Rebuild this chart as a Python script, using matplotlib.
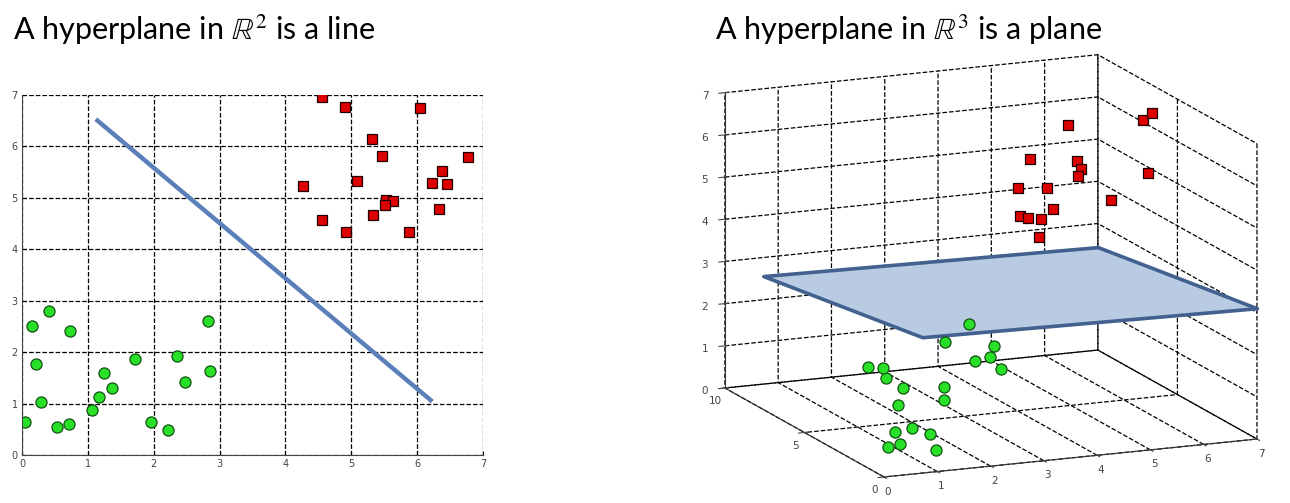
import matplotlib
matplotlib.use('Agg')
import matplotlib.pyplot as plt
from mpl_toolkits.mplot3d.art3d import Poly3DCollection

plt.rcParams['mathtext.fontset'] = 'stix'
plt.rcParams['grid.linestyle'] = '--'
plt.rcParams['grid.color'] = 'black'
plt.rcParams['grid.linewidth'] = 0.9

# 2D panel data
green_x = [0.05, 0.15, 0.41, 0.21, 0.29, 0.53, 0.72, 0.73, 1.07, 1.17,
           1.24, 1.36, 1.72, 1.96, 2.22, 2.36, 2.48, 2.83, 2.86]
green_y = [0.65, 2.51, 2.80, 1.76, 1.04, 0.55, 0.60, 2.41, 0.87, 1.13,
           1.59, 1.30, 1.86, 0.65, 0.49, 1.92, 1.41, 2.61, 1.63]
red_x = [4.55, 4.90, 6.05, 5.31, 5.46, 6.77, 6.37, 5.09, 4.26, 6.23,
         6.46, 5.53, 5.63, 5.51, 5.33, 4.56, 4.92, 5.88, 6.33]
red_y = [6.97, 6.77, 6.74, 6.14, 5.81, 5.79, 5.53, 5.33, 5.24, 5.29,
         5.27, 4.96, 4.94, 4.87, 4.67, 4.56, 4.34, 4.33, 4.78]
line_x = [1.12, 6.23]
line_y = [6.53, 1.04]

# 3D panel data
g3_x = [3.98, 2.93, 3.85, 3.78, 3.50, 3.98, 1.49, 1.77, 1.83, 1.85,
        2.62, 2.62, 1.75, 1.10, 1.42, 1.76, 0.90, 0.67, 1.57]
g3_y = [8, 6, 6, 6, 6, 6, 6, 6, 6, 5,
        5, 5, 5, 3, 3, 3, 2, 2, 2]
g3_z = [1.43, 1.56, 1.34, 1.09, 1.03, 0.78, 1.15, 1.09, 0.84, 0.82,
        0.74, 0.43, 0.43, 0.29, 0.35, 0.16, 0.24, 0.20, 0.02]
r3_x = [4.94, 6.65, 6.67, 4.53, 5.11, 5.04, 4.83, 5.85, 4.01, 4.25,
        4.86, 3.74, 3.75, 3.84, 4.22, 3.65]
r3_y = [5, 6, 5.5, 6, 5, 4.5, 4, 3, 5, 4,
        2, 4, 3.5, 3, 3.5, 2.5]
r3_z = [6.66, 6.35, 6.62, 5.70, 5.77, 5.71, 5.66, 5.83, 5.27, 5.45,
        5.51, 4.87, 4.93, 5.00, 5.06, 4.68]
plane_x = [0.72, 7, 7, 0.72]
plane_y = [10, 10, 0, 0]
plane_z = [2.56, 2.44, 3.10, 3.22]

fig = plt.figure(figsize=(12.9, 5.03), dpi=100)

title_font = ['Lato', 'DejaVu Sans']
fig.text(13/1290, 1 - 30/503, r'A hyperplane in $\mathbb{R}^2$ is a line',
         fontsize=22, family=title_font, va='center', ha='left')
fig.text(715/1290, 1 - 30/503, r'A hyperplane in $\mathbb{R}^3$ is a plane',
         fontsize=22, family=title_font, va='center', ha='left')

# ---- left: 2D ----
ax = fig.add_axes([22/1290, 1 - 455/503, 461/1290, 360/503])
ax.plot(line_x, line_y, color='#5b7fb9', lw=3.2, solid_capstyle='butt')
ax.plot(green_x, green_y, 'o', ms=8, mfc='#27e027', mec='#145214', mew=0.9)
ax.plot(red_x, red_y, 's', ms=7.5, mfc='#dd0000', mec='#220000', mew=0.9)
ax.set_xlim(0, 7)
ax.set_ylim(0, 7)
ax.set_xticks(range(8))
ax.set_yticks(range(8))
ax.grid(True)
ax.set_axisbelow(True)
for s in ['top', 'right']:
    ax.spines[s].set_visible(False)
for s in ['left', 'bottom']:
    ax.spines[s].set_color('#444444')
ax.tick_params(direction='in', length=3, labelsize=7, labelcolor='#444444', pad=3)

# ---- right: 3D ----
ax3 = fig.add_axes([0.5134, -0.1819, 640/1290, 640/503], projection='3d')
ax3.set_proj_type('ortho')
ax3.view_init(elev=13.8, azim=-113.1)
ax3.set_box_aspect((1, 1, 0.75), zoom=0.9846)
ax3.set_xlim(0, 7)
ax3.set_ylim(0, 10)
ax3.set_zlim(0, 7)
ax3.set_xticks(range(8))
ax3.set_yticks([0, 5, 10])
ax3.set_zticks(range(8))
ax3.computed_zorder = False
for a in [ax3.xaxis, ax3.yaxis, ax3.zaxis]:
    a.pane.set_facecolor((1, 1, 1, 0))
    a.pane.set_edgecolor((1, 1, 1, 0))
    a.line.set_color('#333333')
    a.set_tick_params(labelsize=7.5, colors='#444444', pad=-2)
ax3.zaxis.set_tick_params(pad=1)

verts = [list(zip(plane_x, plane_y, plane_z))]
ax3.add_collection3d(Poly3DCollection(verts, facecolor='#b8cbe3', edgecolor='#42618f',
                                      linewidth=2.6, zorder=2))
ax3.scatter(g3_x, g3_y, g3_z, marker='o', s=64, c='#27e027', edgecolors='#145214',
            linewidths=0.9, depthshade=False, zorder=3)
ax3.scatter(r3_x, r3_y, r3_z, marker='s', s=60, c='#dd0000', edgecolors='#220000',
            linewidths=0.9, depthshade=False, zorder=3)

fig.savefig('out.png', dpi=100)
